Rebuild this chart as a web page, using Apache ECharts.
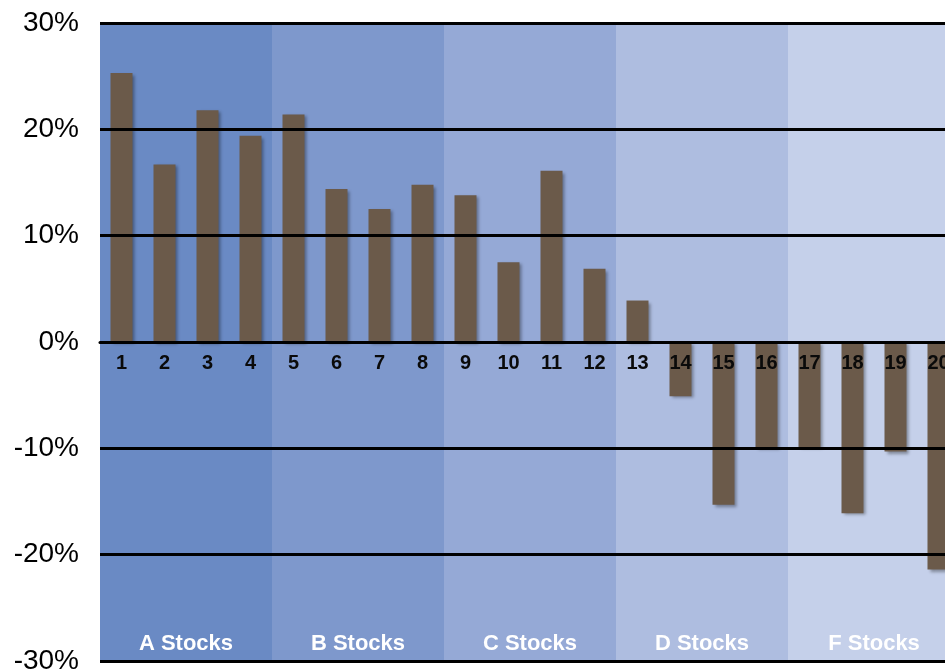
<!DOCTYPE html>
<html>
<head>
<meta charset="utf-8">
<script src="https://cdn.jsdelivr.net/npm/echarts@6/dist/echarts.min.js"></script>
<style>
html,body{margin:0;padding:0;background:#fff;}
#main{width:945px;height:670px;}
</style>
</head>
<body>
<div id="main"></div>
<script>
// stock numbers and returns (%)
var stocks = ['1','2','3','4','5','6','7','8','9','10','11','12','13','14','15','16','17','18','19','20'];
var returns = [25.3, 16.7, 21.8, 19.4, 21.4, 14.4, 12.5, 14.8, 13.8, 7.5, 16.1, 6.9, 3.9, -5.1, -15.3, -10.0, -9.9, -16.1, -10.3, -21.4];
// groups behind the bars, 4 stocks each
var groups = ['A Stocks', 'B Stocks', 'C Stocks', 'D Stocks', 'F Stocks'];
var groupColors = ['#6a8ac4', '#7e98cc', '#95a9d6', '#aebde0', '#c5d0ea'];
var yTicks = {min: -30, max: 30, step: 10};

var bandTop = groups.map(function (g, i) {
	return {value: yTicks.max, itemStyle: {color: groupColors[i]}};
});
var bandBottom = groups.map(function (g, i) {
	return {value: yTicks.min, itemStyle: {color: groupColors[i]}};
});

var gridTop = 23, gridBottom = 9, chartH = 670;
// v6 keeps onZero labels at the grid edge, so shift the category axis up to 0%
var zeroOffset = -(chartH - gridTop - gridBottom) / 2;

var chart = echarts.init(document.getElementById('main'));
var option = {
	backgroundColor: '#fff',
	animation: false,
	textStyle: {fontFamily: 'Liberation Sans, Arial, sans-serif'},
	grid: {left: 100, right: -15, top: gridTop, bottom: gridBottom, containLabel: false, outerBoundsMode: 'none'},
	xAxis: [
		{
			type: 'category',
			data: stocks,
			position: 'bottom',
			offset: zeroOffset,
			z: 6,
			axisLine: {show: true, onZero: false, lineStyle: {color: '#000', width: 3}},
			axisTick: {show: false},
			axisLabel: {color: '#0a0a0a', fontWeight: 'bold', fontSize: 20, margin: 11}
		},
		{
			type: 'category',
			data: groups,
			position: 'top',
			show: false,
			axisLine: {onZero: false}
		}
	],
	yAxis: {
		type: 'value',
		min: yTicks.min,
		max: yTicks.max,
		interval: yTicks.step,
		z: 5,
		axisLine: {show: false},
		axisTick: {show: false},
		axisLabel: {formatter: '{value}%', color: '#000', fontSize: 28, margin: 21, padding: [4, 0, 0, 0]},
		splitLine: {show: true, lineStyle: {color: '#000', width: 3}}
	},
	series: [
		{
			type: 'bar',
			xAxisIndex: 1,
			stack: 'band',
			barWidth: '100%',
			z: 1,
			silent: true,
			data: bandTop
		},
		{
			type: 'bar',
			xAxisIndex: 1,
			stack: 'band',
			barWidth: '100%',
			z: 1,
			silent: true,
			data: bandBottom,
			label: {
				show: true,
				position: 'insideBottom',
				distance: 6,
				formatter: function (p) { return p.name; },
				color: '#fff',
				fontWeight: 'bold',
				fontSize: 22
			}
		},
		{
			type: 'bar',
			xAxisIndex: 0,
			barWidth: 22,
			z: 3,
			data: returns,
			itemStyle: {
				color: '#6b5a4a',
				shadowColor: 'rgba(0,0,0,0.35)',
				shadowBlur: 3,
				shadowOffsetX: 2,
				shadowOffsetY: 2
			}
		}
	]
};
chart.setOption(option);
</script>
</body>
</html>
